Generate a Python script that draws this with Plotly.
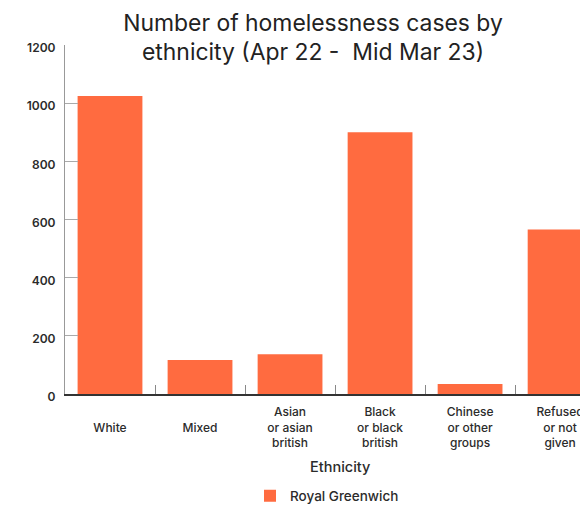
import plotly.graph_objects as go

categories = ["<br>White", "<br>Mixed", "Asian<br>or asian<br>british", "Black<br>or black<br>british",
              "Chinese<br>or other<br>groups", "Refused<br>or not<br>given"]
cases = [1025, 117, 137, 900, 34, 566]
series_name = "Royal Greenwich"
y_ticks = [0, 200, 400, 600, 800, 1000, 1200]

BAR = "#FF6B40"
FONT = "Inter"
TXT = "#2b2b2b"

W, H = 580, 510
L, T, B = 57, 37, 124
PW, PH = W - L, H - T - B

fig = go.Figure()
fig.add_trace(go.Bar(x=categories, y=cases, name=series_name, marker=dict(color=BAR, line=dict(width=0))))

fig.update_layout(
    width=W, height=H,
    margin=dict(l=L, r=0, t=T, b=B),
    paper_bgcolor="white", plot_bgcolor="white",
    font=dict(family=FONT, color=TXT),
    bargap=0.28,
    showlegend=True,
    title=dict(text="Number of homelessness cases by<br>ethnicity (Apr 22 -  Mid Mar 23)",
               x=305/W, xref="container", xanchor="center",
               y=1 - 22.5/H, yref="container", yanchor="middle",
               font=dict(family=FONT, size=22.9, color="#222")),
    legend=dict(orientation="h", x=(319 - L)/PW, xanchor="center", y=-(488 - 386)/PH, yanchor="middle",
                font=dict(family=FONT, size=13.5, color=TXT, weight=500)),
)
fig.update_xaxes(
    type="category", range=[-0.5, 5.31],
    showline=True, linecolor="#333", linewidth=1.5,
    ticks="inside", tickson="boundaries", ticklen=9, tickcolor="#888", tickwidth=1.2,
    tickfont=dict(family=FONT, size=12, color=TXT, weight=500),
    ticklabelstandoff=6,
    showgrid=False, zeroline=False,
)
fig.update_yaxes(
    range=[0, 1200], tickvals=y_ticks,
    showline=True, linecolor="#999", linewidth=1.2,
    ticks="inside", ticklen=13, tickcolor="#aaa", tickwidth=1,
    tickfont=dict(family=FONT, size=12, color=TXT, weight=600),
    ticklabelstandoff=6, ticklabelshift=3,
    showgrid=False, zeroline=False,
)
fig.add_annotation(text="Ethnicity", x=(332 - L)/PW, xref="paper", y=-72/PH, yref="paper",
                   xanchor="center", yanchor="middle", showarrow=False,
                   font=dict(family=FONT, size=14.5, color=TXT, weight=500))

fig.write_html("out.html")
